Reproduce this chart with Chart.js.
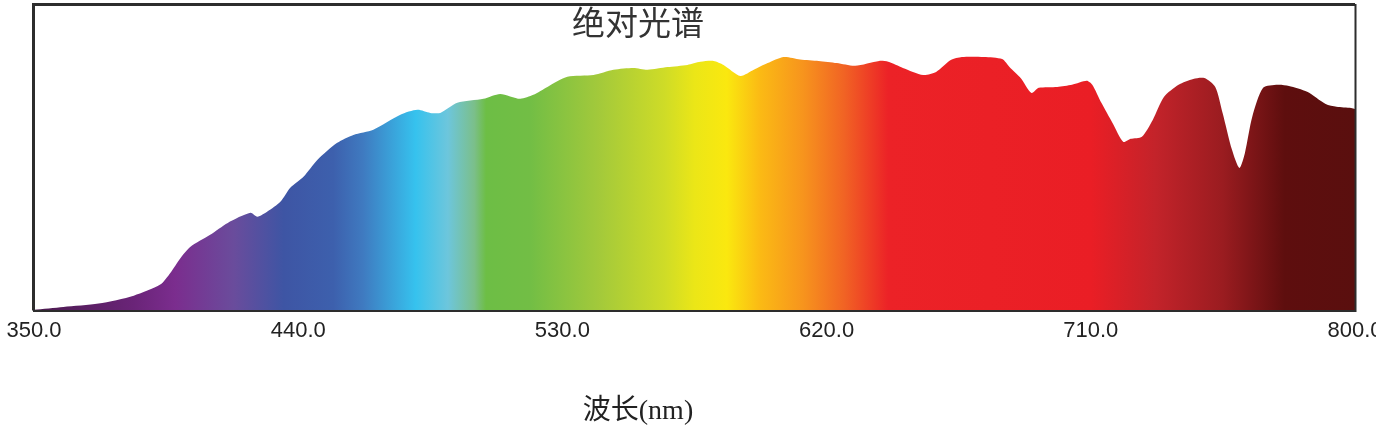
<!DOCTYPE html>
<html>
<head>
<meta charset="utf-8">
<script src="https://cdn.jsdelivr.net/npm/chart.js@4.4.0/dist/chart.umd.min.js"></script>
<style>
  html, body { margin: 0; padding: 0; background: #fff; overflow: hidden; }
</style>
</head>
<body>
<canvas id="chart" width="1376" height="431"></canvas>
<script>
// wavelength (nm) and relative intensity
const wavelengths = [
  350, 360, 372, 384, 393, 396.5, 400, 403.3, 410, 416, 423.7, 426.1, 429.5, 434, 437.3,
  441.8, 446.5, 453.3, 458.8, 465.6, 474.8, 480.6, 485, 488.4, 494.2, 503.1, 508.8, 515.6,
  520.1, 524.9, 531.7, 540.6, 547.4, 554.2, 559, 565.8, 572.6, 577, 581.5, 584.9, 590.6,
  595.2, 599.9, 605.4, 611, 617.3, 623.5, 629.7, 637.9, 641, 646, 652.9, 657.3, 662.3,
  666.1, 673.6, 679.8, 682.3, 686.1, 689.8, 692.3, 698.6, 703.6, 708.6, 710.5, 713.6,
  717.4, 721.1, 723.6, 727.4, 731.1, 734.9, 739.9, 744.9, 748.7, 752.4, 754.9, 758.1,
  760.6, 762.5, 765, 768.7, 773.7, 777.5, 783.7, 790, 793.7, 798.7, 800
];
const intensity = [
  0.003, 0.012, 0.023, 0.049, 0.085, 0.124, 0.173, 0.209, 0.248, 0.287, 0.320, 0.307, 0.324, 0.357, 0.402,
  0.438, 0.493, 0.549, 0.575, 0.592, 0.641, 0.657, 0.647, 0.647, 0.680, 0.693, 0.709, 0.693,
  0.706, 0.732, 0.765, 0.771, 0.788, 0.794, 0.788, 0.797, 0.804, 0.814, 0.817, 0.804, 0.768,
  0.788, 0.810, 0.830, 0.822, 0.817, 0.810, 0.801, 0.817, 0.814, 0.794, 0.771, 0.781, 0.820,
  0.830, 0.830, 0.823, 0.797, 0.761, 0.712, 0.729, 0.732, 0.739, 0.752, 0.739, 0.680,
  0.614, 0.552, 0.562, 0.569, 0.624, 0.699, 0.739, 0.758, 0.761, 0.732, 0.647, 0.526,
  0.467, 0.516, 0.634, 0.729, 0.739, 0.735, 0.716, 0.676, 0.667, 0.663, 0.660
];
const tickValues = [350, 440, 530, 620, 710, 800];
const chartTitle = '绝对光谱';
const xTitle = '波长(nm)';

// colours of the spectrum fill, by wavelength
const spectrumStops = [
  [350, '#4a1a4e'], [384, '#6a2478'], [398, '#7b2d8e'], [418, '#6a4c9c'], [435, '#3e55a4'],
  [452, '#3d60ad'], [462, '#3f7ac0'], [480, '#36c2ee'], [491, '#6dc6dc'], [500, '#7bbf8a'],
  [504, '#6dbe45'], [519, '#72be45'], [542, '#a2c93b'], [565, '#cfdc27'], [575, '#ebe617'],
  [586, '#fae80f'], [597, '#fbbb14'], [612, '#f7941d'], [626, '#f16324'], [641, '#ec2227'],
  [710, '#ea1e25'], [732, '#c3232a'], [755, '#9a1c20'], [776, '#5e0e0e'], [800, '#5a0f0e']
];

function spectrumFill(ctx) {
  const chart = ctx.chart;
  const area = chart.chartArea;
  if (!area) return '#ec2227';
  const xs = chart.scales.x;
  const g = chart.ctx.createLinearGradient(area.left, 0, area.right, 0);
  spectrumStops.forEach(([nm, c]) => {
    const t = (xs.getPixelForValue(nm) - area.left) / (area.right - area.left);
    g.addColorStop(Math.min(1, Math.max(0, t)), c);
  });
  return g;
}

// dark frame round the plot, heavier on the left and top
const framePlugin = {
  id: 'frame',
  afterDatasetsDraw(chart) {
    const { ctx, chartArea: a } = chart;
    ctx.save();
    ctx.strokeStyle = '#2d2d2d';
    ctx.lineWidth = 3;
    ctx.beginPath();
    ctx.moveTo(a.left - 0.5, a.bottom);
    ctx.lineTo(a.left - 0.5, a.top - 0.5);
    ctx.lineTo(a.right, a.top - 0.5);
    ctx.stroke();
    ctx.lineWidth = 2;
    ctx.beginPath();
    ctx.moveTo(a.right + 0.5, a.top - 1);
    ctx.lineTo(a.right + 0.5, a.bottom + 0.5);
    ctx.lineTo(a.left - 1, a.bottom + 0.5);
    ctx.stroke();
    ctx.restore();
  }
};

// chart title and axis title sit off-centre in the reference
const textPlugin = {
  id: 'texts',
  afterDraw(chart) {
    const ctx = chart.ctx;
    ctx.save();
    ctx.textAlign = 'center';
    ctx.textBaseline = 'middle';
    ctx.fillStyle = '#333';
    ctx.font = '33px "Noto Sans CJK SC", sans-serif';
    ctx.fillText(chartTitle, 638, 22);
    ctx.fillStyle = '#222';
    ctx.font = '28px "Liberation Serif", "Noto Sans CJK SC", serif';
    ctx.fillText(xTitle, 638, 412);
    ctx.restore();
  }
};

new Chart(document.getElementById('chart'), {
  type: 'line',
  data: {
    datasets: [{
      data: wavelengths.map((w, i) => ({ x: w, y: intensity[i] })),
      borderColor: 'rgba(0,0,0,0)',
      borderWidth: 0,
      pointRadius: 0,
      tension: 0.25,
      fill: 'start',
      backgroundColor: spectrumFill
    }]
  },
  options: {
    responsive: false,
    devicePixelRatio: 1,
    animation: false,
    layout: { padding: { left: 34, right: 21, top: 5, bottom: 80 } },
    plugins: { legend: { display: false }, tooltip: { enabled: false } },
    scales: {
      x: {
        type: 'linear',
        min: 350,
        max: 800,
        grid: { display: false, drawTicks: false },
        border: { display: false },
        afterBuildTicks: s => { s.ticks = tickValues.map(v => ({ value: v })); },
        afterFit: s => { s.paddingLeft = 0; s.paddingRight = 0; },
        ticks: {
          padding: 7,
          autoSkip: false,
          maxRotation: 0,
          color: '#222',
          font: { family: '"Liberation Sans", Arial, sans-serif', size: 22 },
          callback: v => Number(v).toFixed(1)
        }
      },
      y: { display: false, min: 0, max: 1 }
    }
  },
  plugins: [framePlugin, textPlugin]
});
</script>
</body>
</html>
